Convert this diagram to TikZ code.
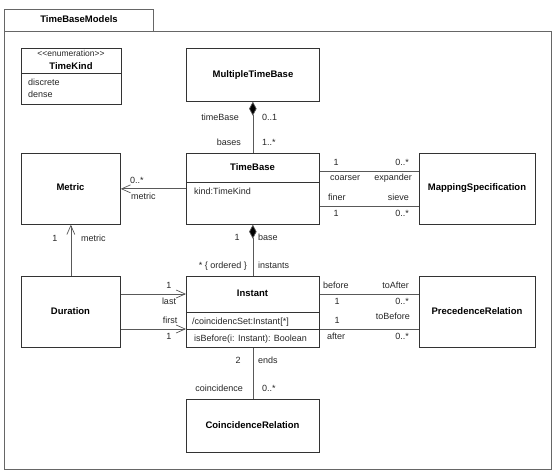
\documentclass[tikz,border=0pt]{standalone}
\usepackage{fontspec}
\setmainfont{Liberation Sans}
\usetikzlibrary{arrows.meta}
\begin{document}
\begin{tikzpicture}[x=1pt,y=-1pt,
 box/.style={draw=black!80, line width=0.7pt, rectangle, inner sep=0pt, anchor=north west},
 divider/.style={draw=black!80, line width=0.7pt},
 frame/.style={draw=black!60, line width=0.9pt},
 conn/.style={draw=black!65, line width=0.7pt},
 lbl/.style={font=\fontsize{9}{10}\selectfont, inner sep=0pt, text height=6.5pt, text depth=1.8pt, text=black!85},
 ttl/.style={font=\fontsize{9.5}{11}\selectfont\bfseries, inner sep=0pt, text height=7pt, text depth=2pt},
 openarr/.style={-{Straight Barb[length=9pt,width=8pt]}},
 comp/.style={{Diamond[length=14pt,width=7.5pt,fill=black]}-},
]
\useasboundingbox (0,0) rectangle (556,470);
% package frame
\draw[frame] (4,31) rectangle (551,469);
\draw[frame] (4,9) rectangle (153,31);
\node[ttl] (pkg) at (79,20) {TimeBaseModels};

% boxes
\node[box, minimum width=100pt, minimum height=56pt] (tk) at (21,48) {};
\node[box, minimum width=133pt, minimum height=53pt] (mtb) at (186,48) {};
\node[box, minimum width=133pt, minimum height=71pt] (tb) at (186,153) {};
\node[box, minimum width=99pt, minimum height=71pt] (met) at (21,153) {};
\node[box, minimum width=116pt, minimum height=71pt] (ms) at (419,153) {};
\node[box, minimum width=99pt, minimum height=71pt] (dur) at (21,276) {};
\node[box, minimum width=133pt, minimum height=71pt] (inst) at (186,276) {};
\node[box, minimum width=116pt, minimum height=71pt] (pr) at (419,276) {};
\node[box, minimum width=133pt, minimum height=53pt] (cr) at (186,399) {};

% dividers
\draw[divider] (tk.west |- 0,73) -- (tk.east |- 0,73);
\draw[divider] (tb.west |- 0,182) -- (tb.east |- 0,182);
\draw[divider] (inst.west |- 0,312) -- (inst.east |- 0,312);
\draw[divider] (inst.west |- 0,329) -- (inst.east |- 0,329);

% box texts
\node[lbl, font=\fontsize{8.5}{10}\selectfont] (tkst) at (71,54) {<{}<enumeration>{}>};
\node[ttl] (tkn) at (71,67) {TimeKind};
\node[lbl, anchor=west] (tk1) at (28,83) {discrete};
\node[lbl, anchor=west] (tk2) at (28,95) {dense};
\node[ttl] (mtbn) at (253,75) {MultipleTimeBase};
\node[ttl] (tbn) at (252.5,168) {TimeBase};
\node[lbl, anchor=west] (tba) at (194,192) {kind:TimeKind};
\node[ttl] (metn) at (70.5,188) {Metric};
\node[ttl] (msn) at (477,188) {MappingSpecification};
\node[ttl] (durn) at (70.5,312) {Duration};
\node[ttl] (instn) at (252.5,294) {Instant};
\node[lbl, anchor=west] (insta) at (192,322) {/coincidencSet:Instant[*]};
\node[lbl, anchor=west] (insto) at (194,339) {isBefore(i: Instant): Boolean};
\node[ttl] (prn) at (477,312) {PrecedenceRelation};
\node[ttl] (crn) at (252.5,426) {CoincidenceRelation};

% connectors
\draw[conn, comp] (mtb.south) -- (tb.north);
\draw[conn, openarr] (tb.west) -- (met.east);
\draw[conn, openarr] (dur.north) -- (met.south);
\draw[conn, openarr] (dur.east |- 0,294) -- (inst.west |- 0,294);
\draw[conn, openarr] (dur.east |- 0,329) -- (inst.west |- 0,329);
\draw[conn, comp] (tb.south) -- (inst.north);
\draw[conn] (tb.east |- 0,171) -- (ms.west |- 0,171);
\draw[conn] (tb.east |- 0,206) -- (ms.west |- 0,206);
\draw[conn] (inst.east |- 0,294) -- (pr.west |- 0,294);
\draw[conn] (inst.east |- 0,329) -- (pr.west |- 0,329);
\draw[conn] (inst.south) -- (cr.north);

% labels
\node[lbl, anchor=east] at (239,118) {timeBase};
\node[lbl, anchor=west] at (262,118) {0..1};
\node[lbl, anchor=east] at (241,143) {bases};
\node[lbl, anchor=west] at (262,143) {1..*};

\node[lbl, anchor=west] at (130,181) {0..*};
\node[lbl, anchor=west] at (131,197) {metric};
\node[lbl] at (55,239) {1};
\node[lbl, anchor=west] at (81,239) {metric};

\node[lbl] at (336,163) {1};
\node[lbl, anchor=east] at (409,163) {0..*};
\node[lbl, anchor=west] at (330,178) {coarser};
\node[lbl, anchor=east] at (412,178) {expander};
\node[lbl, anchor=west] at (328,198) {finer};
\node[lbl, anchor=east] at (409,198) {sieve};
\node[lbl] at (336,214) {1};
\node[lbl, anchor=east] at (409,214) {0..*};

\node[lbl] at (237,238) {1};
\node[lbl, anchor=west] at (258,238) {base};
\node[lbl, anchor=east] at (247,266) {* \{ ordered \}};
\node[lbl, anchor=west] at (258,266) {instants};

\node[lbl] at (169,286) {1};
\node[lbl] at (169,302) {last};
\node[lbl] at (170,321) {first};
\node[lbl] at (169,337) {1};

\node[lbl, anchor=west] at (323,286) {before};
\node[lbl, anchor=east] at (409,286) {toAfter};
\node[lbl] at (337,302) {1};
\node[lbl, anchor=east] at (409,302) {0..*};
\node[lbl] at (337,321) {1};
\node[lbl, anchor=east] at (410,317) {toBefore};
\node[lbl, anchor=west] at (327,337) {after};
\node[lbl, anchor=east] at (409,337) {0..*};

\node[lbl] at (238,361) {2};
\node[lbl, anchor=west] at (258,361) {ends};
\node[lbl, anchor=east] at (243,389) {coincidence};
\node[lbl, anchor=west] at (262,389) {0..*};
\end{tikzpicture}
\end{document}
